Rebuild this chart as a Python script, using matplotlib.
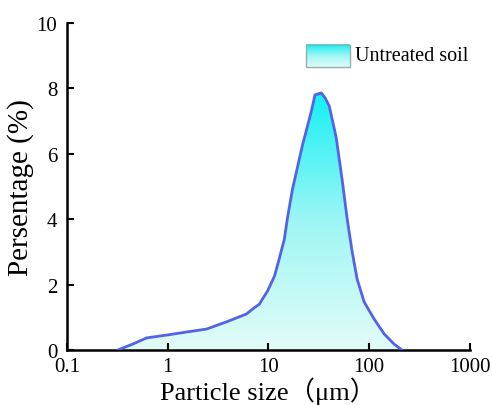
import numpy as np
import matplotlib
matplotlib.use("Agg")
from matplotlib import pyplot as plt
from matplotlib.colors import LinearSegmentedColormap
from matplotlib.patches import Rectangle

# particle size (um) and percentage
size = [0.32, 0.45, 0.62, 1.0, 1.54, 2.43, 3.84, 6.05, 7.3, 8.15, 8.5, 9.8,
        11.5, 12.8, 14.4, 15.4, 17.3, 21.7, 26.7, 29.0, 31.0, 33.5, 36.7,
        40.2, 47.1, 54.0, 60.6, 67.9, 76.0, 89.2, 112.0, 141.0, 177.0, 212.0]
percent = [0.0, 0.18, 0.37, 0.46, 0.55, 0.64, 0.86, 1.1, 1.3, 1.4, 1.5, 1.8,
           2.26, 2.78, 3.39, 4.0, 4.9, 6.24, 7.3, 7.8, 7.83, 7.86, 7.7,
           7.46, 6.5, 5.2, 4.0, 3.0, 2.17, 1.47, 0.95, 0.49, 0.18, 0.0]
xticks = [0.1, 1, 10, 100, 1000]
xlabels = ['0.1', '1', '10', '100', '1000']
yticks = [0, 2, 4, 6, 8, 10]

plt.rcParams['font.family'] = ['Liberation Serif', 'Noto Sans CJK SC', 'DejaVu Sans']

fig = plt.figure(figsize=(4.92, 4.06), dpi=100)
ax = fig.add_axes([0.136, 0.1355, 0.819, 0.8055])
ax.set_xscale('log')

cmap = LinearSegmentedColormap.from_list('cy', ['#e2fcf8', '#9ef6f4', '#14f0f4'])
grad = np.linspace(0, 1, 256).reshape(-1, 1)

# gradient fill under the curve
poly = ax.fill_between(size, percent, 0, color='none', linewidth=0)
img = ax.imshow(grad, cmap=cmap, origin='lower', aspect='auto',
                extent=[size[0], size[-1], 0, max(percent)], zorder=1)
img.set_clip_path(poly.get_paths()[0], transform=ax.transData)
ax.plot(size, percent, color='#5462ea', linewidth=2, zorder=3,
        solid_joinstyle='round')

ax.set_xticks(xticks)
ax.set_xticklabels(xlabels)
ax.set_yticks(yticks)
ax.minorticks_off()
ax.tick_params(direction='in', length=5, width=1.5, labelsize=15)
ax.tick_params(axis='x', pad=5)
ax.tick_params(axis='y', pad=7)
for s in ['top', 'right']:
    ax.spines[s].set_visible(False)
for s in ['left', 'bottom']:
    ax.spines[s].set_linewidth(1.8)

ax.set_xlabel('Particle size\uff08\u03bcm\uff09', fontsize=19, va='center')
ax.xaxis.set_label_coords(0.5, -0.124)
ax.set_ylabel('Persentage (%)', fontsize=21, va='center')
ax.yaxis.set_label_coords(-0.115, 0.5)

# legend drawn by hand so the swatch carries the gradient
lx0, lx1, ly0, ly1 = 0.593, 0.702, 0.865, 0.933
ax.imshow(grad, cmap=cmap, origin='lower', aspect='auto',
          extent=[lx0, lx1, ly0, ly1], transform=ax.transAxes, zorder=4)
ax.add_patch(Rectangle((lx0, ly0), lx1 - lx0, ly1 - ly0, transform=ax.transAxes,
                       fill=False, edgecolor='#8fb0b0', linewidth=1, zorder=5))
ax.text(0.715, 0.899, 'Untreated soil', transform=ax.transAxes, fontsize=14.5,
        va='center', ha='left')
ax.set_xlim(0.1, 1000)
ax.set_ylim(0, 10)

fig.savefig('out.png', dpi=100)
